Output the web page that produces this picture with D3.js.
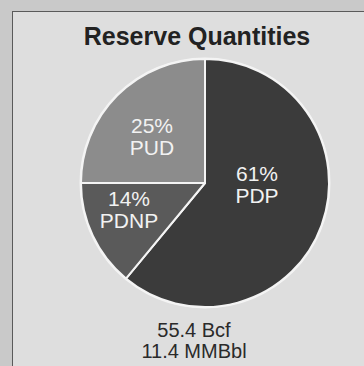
<!DOCTYPE html>
<html>
<head>
<meta charset="utf-8">
<script src="https://cdn.jsdelivr.net/npm/d3@7"></script>
<style>
  body { margin: 0; background: #c9c9c9; }
  svg { display: block; font-family: "Liberation Sans", Arial, sans-serif; }
</style>
</head>
<body>
<div id="chart"></div>
<script>
const WIDTH = 364;
const HEIGHT = 366;

// chart data
const categories = ["PDP", "PDNP", "PUD"];
const shares = [61, 14, 25];
const totals = ["55.4 Bcf", "11.4 MMBbl"];
const title = "Reserve Quantities";

// slice colours and label offsets from the pie centre
const colors = ["#3b3b3b", "#5a5a5a", "#8c8c8c"];
const labelOffset = [[52, 1], [-76, 26], [-53, -47]];

let svg = d3
  .select("#chart")
  .append("svg")
  .attr("width", WIDTH)
  .attr("height", HEIGHT);

svg.append("rect")
  .attr("width", WIDTH)
  .attr("height", HEIGHT)
  .attr("fill", "#c9c9c9");

//inner panel with a thin border on the left and top
svg.append("rect")
  .attr("x", 12.5)
  .attr("y", 11.5)
  .attr("width", WIDTH)
  .attr("height", HEIGHT)
  .attr("fill", "#dedede")
  .attr("stroke", "#5a5a5a")
  .attr("stroke-width", 1);

svg.append("text")
  .attr("x", 197)
  .attr("y", 45)
  .attr("text-anchor", "middle")
  .attr("font-size", 25)
  .attr("font-weight", "bold")
  .attr("fill", "#222")
  .text(title);

const cx = 205, cy = 183, R = 124;
const g = svg.append("g").attr("transform", `translate(${cx},${cy})`);

const pie = d3.pie().sort(null).value((d) => d.value);
const data = categories.map((c, i) => ({ name: c, value: shares[i], i: i }));
const arcs = pie(data);
const arc = d3.arc().innerRadius(0).outerRadius(R);

//soft white halo round the pie
g.append("circle").attr("r", R + 1.5).attr("fill", "#f4f4f4");

g.selectAll("path")
  .data(arcs)
  .enter()
  .append("path")
  .attr("d", arc)
  .attr("fill", (d) => colors[d.data.i])
  .attr("stroke", "#f4f4f4")
  .attr("stroke-width", 2)
  .attr("stroke-linejoin", "round");

let labels = g.selectAll("g.label")
  .data(arcs)
  .enter()
  .append("g")
  .attr("class", "label")
  .attr("transform", (d) => `translate(${labelOffset[d.data.i][0]},${labelOffset[d.data.i][1]})`);

labels.append("text")
  .attr("y", -3)
  .attr("text-anchor", "middle")
  .attr("font-size", 21)
  .attr("fill", "#f2f2f2")
  .text((d) => d.data.value + "%");

labels.append("text")
  .attr("y", 19)
  .attr("text-anchor", "middle")
  .attr("font-size", 21)
  .attr("fill", "#f2f2f2")
  .text((d) => d.data.name);

svg.selectAll("text.total")
  .data(totals)
  .enter()
  .append("text")
  .attr("class", "total")
  .attr("x", 194)
  .attr("y", (d, i) => 337 + i * 21)
  .attr("text-anchor", "middle")
  .attr("font-size", 20)
  .attr("fill", "#2a2a2a")
  .text((d) => d);
</script>
</body>
</html>
